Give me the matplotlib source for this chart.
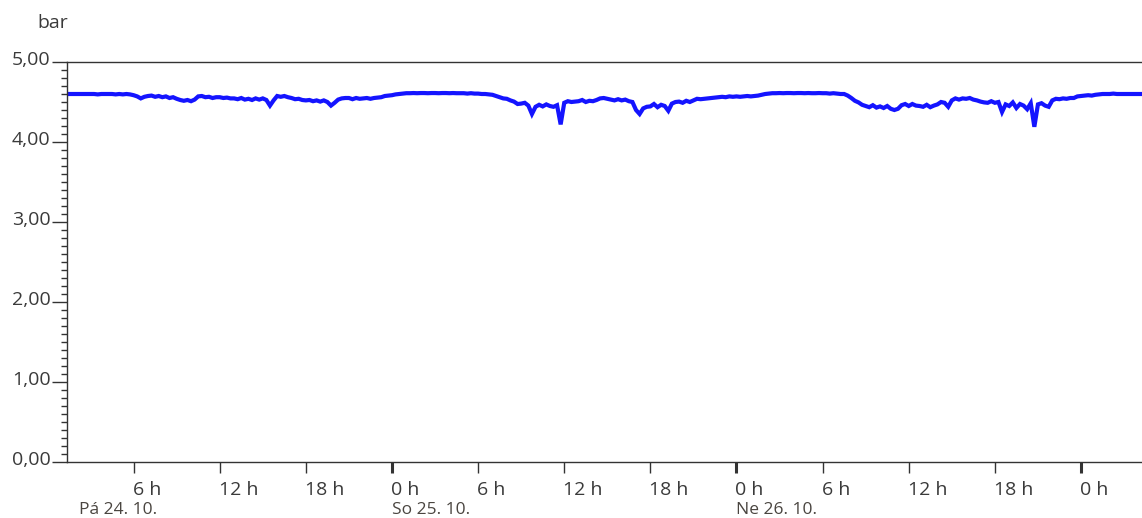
import matplotlib
matplotlib.use("Agg")
import matplotlib.pyplot as plt
import matplotlib.transforms as mtransforms
from matplotlib.ticker import MultipleLocator, FuncFormatter, FixedLocator
import numpy as np

# ---- data: hours since Fri 24.10. 00:00, sampled every 15 minutes from 1:00 ----
t_start = 1.0
t_step = 0.25
pressure = [
    # Fri 24.10.
    4.60, 4.60, 4.60, 4.60,      # 1 h
    4.60, 4.60, 4.60, 4.60,      # 2 h
    4.60, 4.60, 4.595, 4.60,     # 3 h
    4.60, 4.60, 4.60, 4.595,     # 4 h
    4.60, 4.595, 4.60, 4.595,    # 5 h
    4.585, 4.57, 4.545, 4.565,   # 6 h
    4.575, 4.58, 4.565, 4.575,   # 7 h
    4.56, 4.57, 4.55, 4.56,      # 8 h
    4.54, 4.525, 4.515, 4.525,   # 9 h
    4.51, 4.53, 4.57, 4.575,     # 10 h
    4.56, 4.565, 4.55, 4.56,     # 11 h
    4.56, 4.55, 4.555, 4.545,    # 12 h
    4.545, 4.535, 4.55, 4.53,    # 13 h
    4.54, 4.525, 4.545, 4.53,    # 14 h
    4.545, 4.525, 4.455, 4.52,   # 15 h
    4.575, 4.565, 4.575, 4.56,   # 16 h
    4.55, 4.535, 4.54, 4.525,    # 17 h
    4.52, 4.525, 4.51, 4.52,     # 18 h
    4.505, 4.52, 4.50, 4.455,    # 19 h
    4.49, 4.53, 4.545, 4.55,     # 20 h
    4.55, 4.535, 4.55, 4.54,     # 21 h
    4.545, 4.55, 4.54, 4.55,     # 22 h
    4.555, 4.56, 4.575, 4.58,    # 23 h
    # Sat 25.10.
    4.585, 4.595, 4.60, 4.605,   # 0 h
    4.61, 4.61, 4.612, 4.61,     # 1 h
    4.612, 4.612, 4.61, 4.612,   # 2 h
    4.612, 4.61, 4.612, 4.612,   # 3 h
    4.61, 4.612, 4.61, 4.61,     # 4 h
    4.61, 4.605, 4.61, 4.605,    # 5 h
    4.605, 4.60, 4.60, 4.595,    # 6 h
    4.59, 4.575, 4.56, 4.545,    # 7 h
    4.54, 4.52, 4.505, 4.475,    # 8 h
    4.48, 4.49, 4.455, 4.35,     # 9 h
    4.44, 4.465, 4.445, 4.47,    # 10 h
    4.45, 4.44, 4.46, 4.22,      # 11 h
    4.49, 4.51, 4.50, 4.505,     # 12 h
    4.51, 4.525, 4.50, 4.515,    # 13 h
    4.51, 4.525, 4.545, 4.55,    # 14 h
    4.54, 4.53, 4.52, 4.535,     # 15 h
    4.52, 4.53, 4.51, 4.50,      # 16 h
    4.40, 4.35, 4.42, 4.44,      # 17 h
    4.445, 4.475, 4.435, 4.465,  # 18 h
    4.45, 4.39, 4.48, 4.50,      # 19 h
    4.505, 4.49, 4.515, 4.50,    # 20 h
    4.52, 4.54, 4.535, 4.54,     # 21 h
    4.545, 4.55, 4.555, 4.56,    # 22 h
    4.565, 4.56, 4.57, 4.565,    # 23 h
    # Sun 26.10.
    4.57, 4.565, 4.57, 4.575,    # 0 h
    4.57, 4.575, 4.58, 4.59,     # 1 h
    4.60, 4.605, 4.61, 4.61,     # 2 h
    4.612, 4.61, 4.612, 4.612,   # 3 h
    4.61, 4.612, 4.612, 4.61,    # 4 h
    4.612, 4.61, 4.61, 4.612,    # 5 h
    4.61, 4.61, 4.605, 4.61,     # 6 h
    4.605, 4.60, 4.60, 4.58,     # 7 h
    4.55, 4.515, 4.495, 4.465,   # 8 h
    4.45, 4.435, 4.46, 4.43,     # 9 h
    4.445, 4.425, 4.45, 4.415,   # 10 h
    4.40, 4.415, 4.46, 4.475,    # 11 h
    4.45, 4.475, 4.455, 4.45,    # 12 h
    4.44, 4.465, 4.435, 4.455,   # 13 h
    4.47, 4.50, 4.49, 4.44,      # 14 h
    4.52, 4.545, 4.53, 4.545,    # 15 h
    4.54, 4.55, 4.53, 4.52,      # 16 h
    4.505, 4.495, 4.49, 4.51,    # 17 h
    4.49, 4.50, 4.375, 4.47,     # 18 h
    4.45, 4.495, 4.425, 4.475,   # 19 h
    4.455, 4.41, 4.485, 4.19,    # 20 h
    4.47, 4.485, 4.455, 4.44,    # 21 h
    4.52, 4.54, 4.535, 4.545,    # 22 h
    4.54, 4.55, 4.55, 4.57,      # 23 h
    # Mon 27.10.
    4.575, 4.58, 4.585, 4.58,    # 0 h
    4.59, 4.595, 4.60, 4.60,     # 1 h
    4.60, 4.605, 4.60, 4.60,     # 2 h
    4.60, 4.60, 4.60, 4.60,      # 3 h
    4.60, 4.60, 4.595, 4.60,     # 4 h
]
hours = t_start + t_step * np.arange(len(pressure))

y_ticks = [0, 1, 2, 3, 4, 5]
hour_labels = {0: "0 h", 6: "6 h", 12: "12 h", 18: "18 h"}
day_labels = ["Pá 24. 10.", "So 25. 10.", "Ne 26. 10."]
day_label_pos = [2.2, 24.0, 48.0]
x_min, x_max = 1.36, 76.25
unit_label = "bar"

# ---- figure ----
W, H = 1142, 518
fig = plt.figure(figsize=(W / 100, H / 100), dpi=100)
plt.rcParams['font.family'] = ['Open Sans', 'DejaVu Sans']
ax = fig.add_axes([67 / W, 1 - 462 / H, 1 - 67 / W, (462 - 62) / H])

ax.plot(hours, pressure, color="#1414ff", lw=3.0, solid_joinstyle="miter")

ax.set_xlim(x_min, x_max)
ax.set_ylim(0, 5)

spine_c = "#333333"
for s in ["left", "bottom", "top"]:
    ax.spines[s].set_color(spine_c)
    ax.spines[s].set_linewidth(1.0)
ax.spines["right"].set_visible(False)

fs = 14
fs_day = 12.5
txt_c = "#3a3a3a"

# y axis
ax.yaxis.set_major_locator(FixedLocator(y_ticks))
ax.yaxis.set_minor_locator(MultipleLocator(0.1))
ax.yaxis.set_major_formatter(FuncFormatter(lambda v, p: f"{v:.2f}".replace(".", ",")))
ax.tick_params(axis="y", which="major", length=11, width=1, color=spine_c,
               labelsize=fs, labelcolor=txt_c, pad=1)
ax.tick_params(axis="y", which="minor", length=4, width=1, color=spine_c)

# x axis: midnight ticks major (thicker), 6/12/18 h minor
ax.xaxis.set_major_locator(MultipleLocator(24))
ax.xaxis.set_minor_locator(FixedLocator([h for h in np.arange(0, 80, 6) if h % 24 != 0]))
fmt = FuncFormatter(lambda v, p: hour_labels[int(round(v)) % 24])
ax.xaxis.set_major_formatter(fmt)
ax.xaxis.set_minor_formatter(fmt)
ax.tick_params(axis="x", which="major", length=8, width=2.2, color=spine_c,
               labelsize=fs, labelcolor=txt_c, pad=6)
ax.tick_params(axis="x", which="minor", length=8, width=1, color=spine_c,
               labelsize=fs, labelcolor=txt_c, pad=6)

fig.canvas.draw()
for lab in ax.get_xticklabels(which="both"):
    lab.set_ha("left")
    lab.set_transform(lab.get_transform() + mtransforms.ScaledTranslation(-1 / 100, 0, fig.dpi_scale_trans))
for lab in ax.get_yticklabels():
    lab.set_transform(lab.get_transform() + mtransforms.ScaledTranslation(0, 4 / 100, fig.dpi_scale_trans))

# day labels
trans = mtransforms.blended_transform_factory(ax.transData, fig.transFigure)
for lbl, pos in zip(day_labels, day_label_pos):
    ax.text(pos, 1 - 502 / H, lbl, transform=trans, ha="left", va="top",
            fontsize=fs_day, color="#4a4540", clip_on=False)

fig.text(37 / W, 1 - 23 / H, unit_label, ha="left", va="center", fontsize=fs, color=txt_c)

fig.savefig("out.png", dpi=100)
